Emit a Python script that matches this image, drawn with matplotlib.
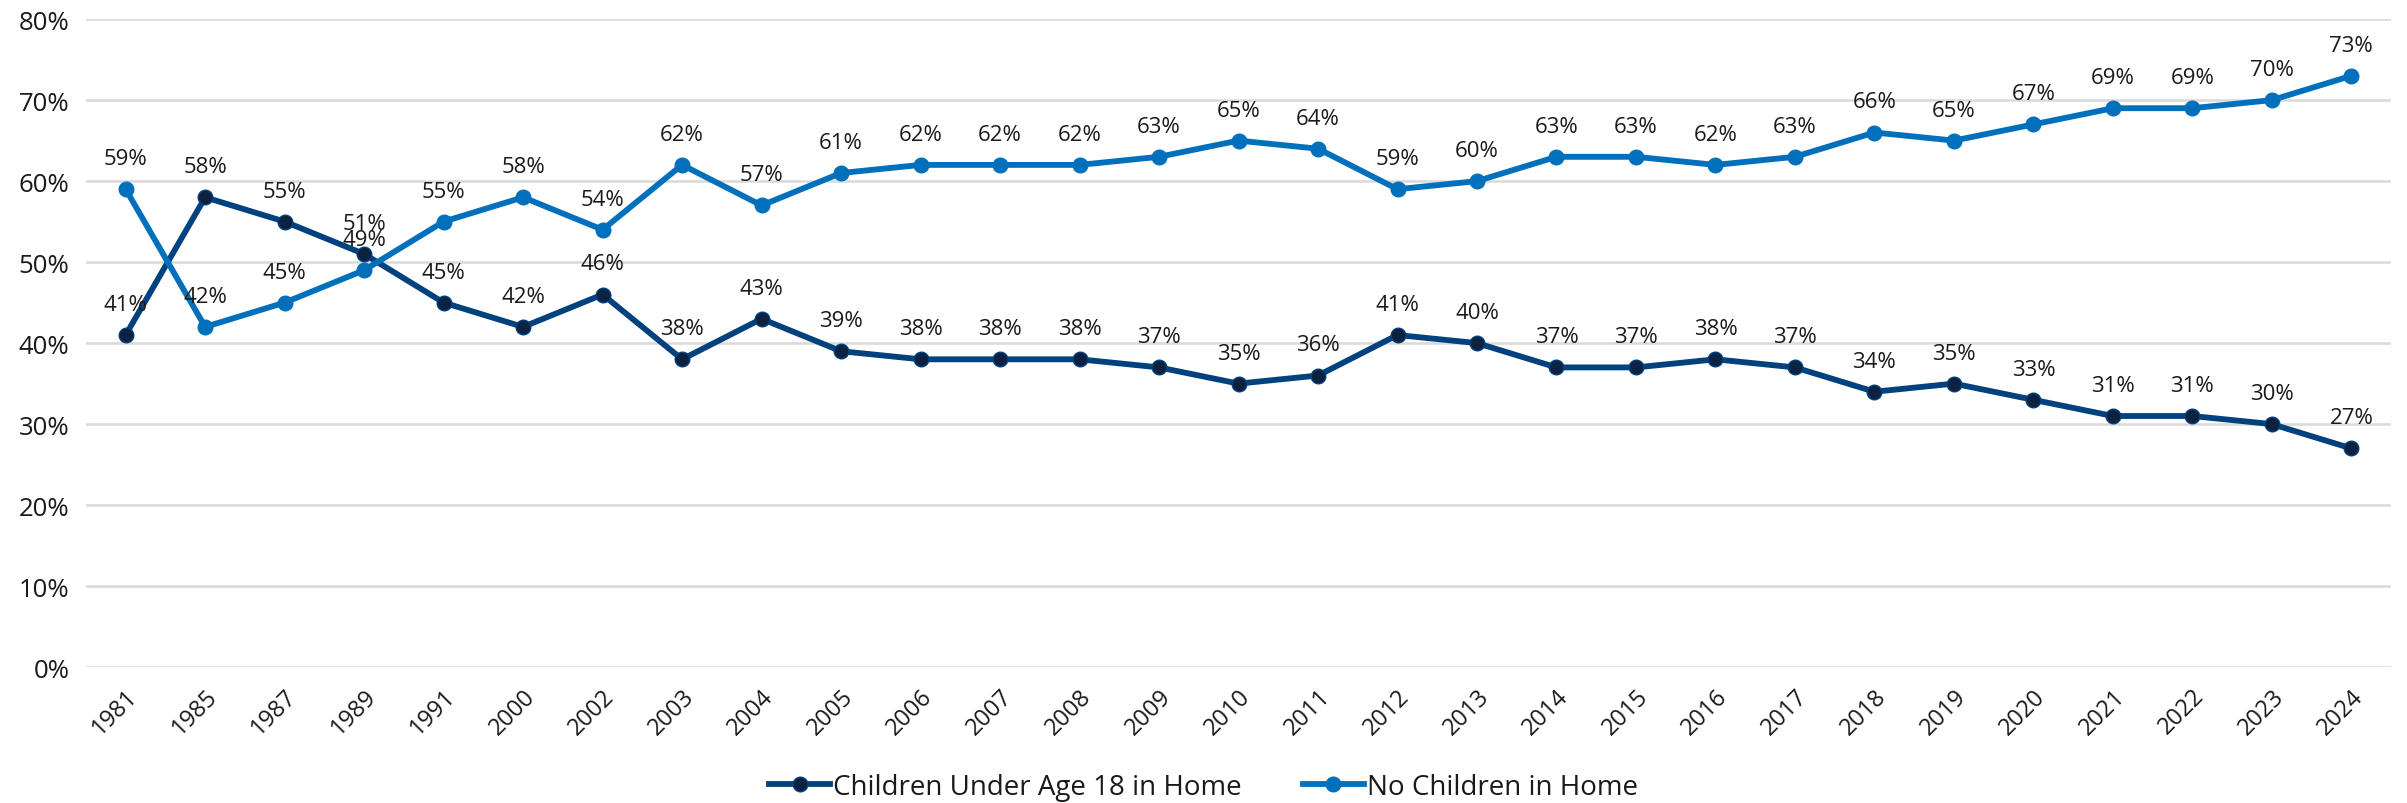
import matplotlib
matplotlib.use("Agg")
import matplotlib.pyplot as plt
from matplotlib.ticker import PercentFormatter

plt.rcParams['font.family'] = ['Open Sans', 'DejaVu Sans']

years = ['1981', '1985', '1987', '1989', '1991', '2000', '2002', '2003', '2004', '2005',
         '2006', '2007', '2008', '2009', '2010', '2011', '2012', '2013', '2014', '2015',
         '2016', '2017', '2018', '2019', '2020', '2021', '2022', '2023', '2024']
children = [41, 58, 55, 51, 45, 42, 46, 38, 43, 39, 38, 38, 38, 37, 35, 36, 41, 40, 37, 37,
            38, 37, 34, 35, 33, 31, 31, 30, 27]
no_children = [59, 42, 45, 49, 55, 58, 54, 62, 57, 61, 62, 62, 62, 63, 65, 64, 59, 60, 63, 63,
               62, 63, 66, 65, 67, 69, 69, 70, 73]
series_names = ['Children Under Age 18 in Home', 'No Children in Home']

fig = plt.figure(figsize=(24.07, 8.04), dpi=100)
ax = fig.add_axes([0.0357, 0.169, 0.9577, 0.806])

x = list(range(len(years)))
dark_line = '#00417e'
dark_marker = '#0d2140'
light = '#0070bd'

ax.plot(x, children, color=dark_line, lw=4.2, marker='o', ms=10.5,
        markerfacecolor=dark_marker, markeredgecolor=dark_line, markeredgewidth=1,
        label=series_names[0], zorder=3)
ax.plot(x, no_children, color=light, lw=4.2, marker='o', ms=10.5,
        markerfacecolor=light, markeredgecolor=light,
        label=series_names[1], zorder=3)

for xi, v in zip(x, children):
    ax.annotate(f'{v}%', (xi, v), xytext=(0, 22), textcoords='offset points',
                ha='center', va='center', fontsize=16, color='#1a1a1a')
for xi, v in zip(x, no_children):
    ax.annotate(f'{v}%', (xi, v), xytext=(0, 22), textcoords='offset points',
                ha='center', va='center', fontsize=16, color='#1a1a1a')

ax.set_xlim(-0.5, len(years) - 0.5)
ax.set_ylim(0, 80)
ax.set_yticks(range(0, 81, 10))
ax.yaxis.set_major_formatter(PercentFormatter(decimals=0))
ax.set_xticks(x)
ax.set_xticklabels(years, rotation=45, ha='right', rotation_mode='anchor', fontsize=17,
                   color='#1a1a1a')
ax.tick_params(axis='y', labelsize=18.5, length=0, pad=12, labelcolor='#1a1a1a')
ax.tick_params(axis='x', length=0, pad=12)
ax.grid(axis='y', color='#d9d9d9', lw=1.8)
ax.set_axisbelow(True)
for s in ax.spines.values():
    s.set_visible(False)

leg = fig.legend(loc='center', bbox_to_anchor=(0.5, 0.02), ncol=2, frameon=False,
                 fontsize=20, handlelength=2.2, handletextpad=0.1, columnspacing=2.2)
for t in leg.get_texts():
    t.set_color('#1a1a1a')

fig.savefig('out.png', dpi=100)
